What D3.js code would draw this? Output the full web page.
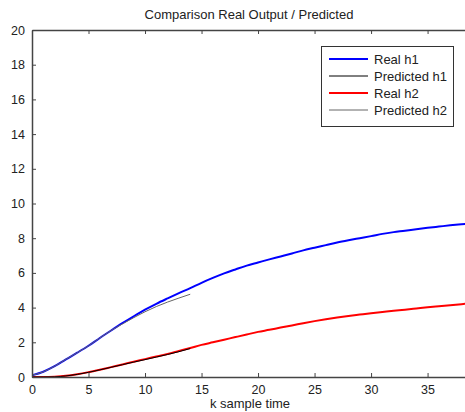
<!DOCTYPE html>
<html><head><meta charset="utf-8">
<script src="https://cdn.jsdelivr.net/npm/d3@7"></script>
<style>body{margin:0;background:#fff}svg{display:block}text{font-family:"Liberation Sans",Arial,sans-serif;fill:#222}</style>
</head><body><svg id="c" width="465" height="412"></svg>
<script>
const kReal = d3.range(0, 40);
const realH1 = [0.10,0.30,0.62,1.02,1.40,1.80,2.25,2.68,3.10,3.50,3.88,4.22,4.53,4.83,5.12,5.43,5.71,5.97,6.20,6.42,6.60,6.78,6.95,7.12,7.30,7.45,7.60,7.75,7.88,8.00,8.12,8.25,8.35,8.43,8.52,8.60,8.67,8.74,8.80,8.86];
const realH2 = [0.00,0.00,0.02,0.07,0.16,0.28,0.42,0.57,0.72,0.88,1.03,1.18,1.33,1.50,1.67,1.85,2.00,2.15,2.30,2.45,2.60,2.72,2.85,2.97,3.10,3.22,3.33,3.43,3.52,3.60,3.68,3.75,3.82,3.88,3.95,4.02,4.08,4.14,4.20,4.26];
const kPred = d3.range(0, 15);
const predH1 = [0.10,0.30,0.62,1.02,1.40,1.80,2.25,2.68,3.06,3.42,3.76,4.06,4.32,4.55,4.77];
const predH2 = [0.00,0.00,0.01,0.06,0.15,0.27,0.41,0.56,0.71,0.86,1.00,1.15,1.30,1.46,1.64];
const xTicks = [0,5,10,15,20,25,30,35];
const yTicks = [0,2,4,6,8,10,12,14,16,18,20];
const legendLabels = ["Real h1","Predicted h1","Real h2","Predicted h2"];
const colors = ["#0000ff","#000000","#ff0000","#666666"];
const widths = [2,1,2,1];

const svg = d3.select("#c");
const L=32, T=30, B=377, R=466;
const x = d3.scaleLinear().domain([0,38.4]).range([L,R]);
const y = d3.scaleLinear().domain([0,20]).range([B,T]);

svg.append("defs").append("clipPath").attr("id","clip").append("rect")
  .attr("x",L).attr("y",T).attr("width",R-L).attr("height",B-T);

const series = [
  {k:kReal, v:realH1, c:0},
  {k:kReal, v:realH2, c:2},
  {k:kPred, v:predH1, c:3},
  {k:kPred, v:predH2, c:1}
];
const line = d3.line().x(d=>x(d[0])).y(d=>y(d[1])).curve(d3.curveMonotoneX);
const g = svg.append("g").attr("clip-path","url(#clip)");
series.forEach(s=>{
  g.append("path").datum(s.k.map((k,i)=>[k,s.v[i]]))
   .attr("d",line).attr("fill","none")
   .attr("stroke",colors[s.c]).attr("stroke-width",widths[s.c]);
});

const ax = "#444";
const xb = svg.append("g").attr("transform",`translate(0,${B})`)
  .call(d3.axisBottom(x).tickValues(xTicks).tickSizeInner(-4).tickSizeOuter(0).tickPadding(8));
const xt = svg.append("g").attr("transform",`translate(0,${T})`)
  .call(d3.axisTop(x).tickValues(xTicks).tickSizeInner(-4).tickSizeOuter(0).tickFormat(""));
const yl = svg.append("g").attr("transform",`translate(${L},0)`)
  .call(d3.axisLeft(y).tickValues(yTicks).tickSizeInner(-4).tickSizeOuter(0).tickPadding(7));
[xb,xt,yl].forEach(a=>{
  a.selectAll("path").attr("stroke",ax).attr("stroke-width",1.5);
  a.selectAll("line").attr("stroke",ax);
  a.selectAll("text").attr("font-size",12.5).attr("fill","#222").attr("font-family","Liberation Sans, Arial, sans-serif");
});

svg.append("text").attr("x",249).attr("y",19).attr("text-anchor","middle").attr("font-size",13).text("Comparison Real Output / Predicted");
svg.append("text").attr("x",250).attr("y",408).attr("text-anchor","middle").attr("font-size",13).text("k sample time");

const lg = svg.append("g");
lg.append("rect").attr("x",321.5).attr("y",46.5).attr("width",132).attr("height",80)
  .attr("fill","#fff").attr("stroke","#333").attr("stroke-width",1);
legendLabels.forEach((t,i)=>{
  const yy = 59 + i*17;
  lg.append("line").attr("x1",329).attr("x2",368).attr("y1",yy).attr("y2",yy)
    .attr("stroke",colors[i]).attr("stroke-width",widths[i]);
  lg.append("text").attr("x",374).attr("y",yy+4.5).attr("font-size",13).text(t);
});
</script></body></html>
